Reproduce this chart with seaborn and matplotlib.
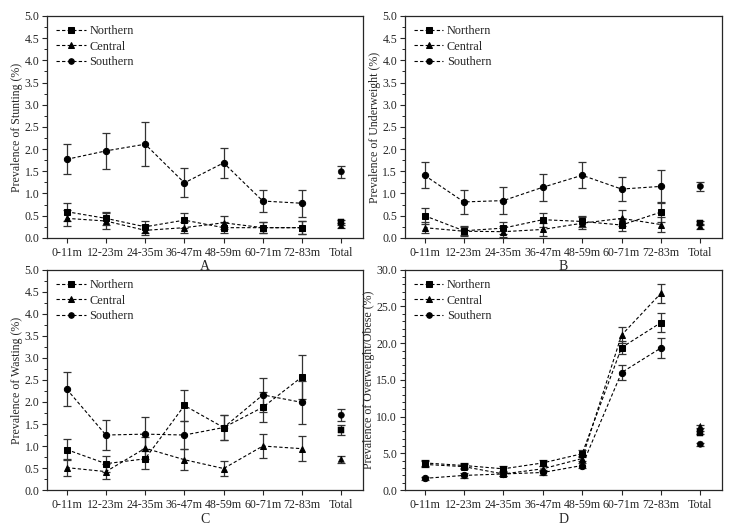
import numpy as np
import pandas as pd
import matplotlib
matplotlib.use("Agg")
import matplotlib.pyplot as plt
import seaborn as sns
from matplotlib.ticker import MultipleLocator, FormatStrFormatter

sns.set_style("ticks")
plt.rcParams['font.family'] = ['Liberation Serif', 'DejaVu Serif']

ages = ["0-11m", "12-23m", "24-35m", "36-47m", "48-59m", "60-71m", "72-83m", "Total"]
regions = ["Northern", "Central", "Southern"]

# A: stunting
stunt_north = [0.59, 0.44, 0.25, 0.40, 0.23, 0.23, 0.23, 0.35]
stunt_north_err = [0.20, 0.15, 0.13, 0.17, 0.12, 0.13, 0.15, 0.05]
stunt_central = [0.44, 0.38, 0.17, 0.23, 0.34, 0.23, 0.23, 0.28]
stunt_central_err = [0.18, 0.18, 0.11, 0.13, 0.15, 0.13, 0.15, 0.05]
stunt_south = [1.77, 1.96, 2.11, 1.24, 1.69, 0.83, 0.78, 1.49]
stunt_south_err = [0.34, 0.41, 0.49, 0.33, 0.33, 0.24, 0.30, 0.13]

# B: underweight
under_north = [0.50, 0.16, 0.22, 0.41, 0.37, 0.29, 0.58, 0.34]
under_north_err = [0.18, 0.10, 0.13, 0.16, 0.13, 0.14, 0.22, 0.05]
under_central = [0.23, 0.15, 0.14, 0.19, 0.33, 0.44, 0.30, 0.26]
under_central_err = [0.12, 0.10, 0.12, 0.14, 0.13, 0.18, 0.17, 0.05]
under_south = [1.41, 0.81, 0.84, 1.14, 1.41, 1.10, 1.16, 1.16]
under_south_err = [0.29, 0.27, 0.31, 0.31, 0.29, 0.27, 0.37, 0.11]

# C: wasting
waste_north = [0.92, 0.60, 0.71, 1.92, 1.42, 1.88, 2.57, 1.37]
waste_north_err = [0.24, 0.18, 0.23, 0.35, 0.28, 0.34, 0.50, 0.11]
waste_central = [0.51, 0.42, 0.95, 0.69, 0.49, 1.00, 0.94, 0.70]
waste_central_err = [0.19, 0.17, 0.25, 0.24, 0.17, 0.27, 0.29, 0.08]
waste_south = [2.29, 1.25, 1.27, 1.25, 1.42, 2.16, 1.99, 1.70]
waste_south_err = [0.38, 0.33, 0.39, 0.32, 0.28, 0.38, 0.49, 0.13]

# D: overweight/obese
over_north = [3.7, 3.35, 2.9, 3.7, 4.95, 19.4, 22.8, 7.84]
over_north_err = [0.40, 0.35, 0.35, 0.40, 0.45, 0.90, 1.30, 0.20]
over_central = [3.5, 3.2, 2.2, 2.9, 4.3, 21.1, 26.8, 8.66]
over_central_err = [0.40, 0.30, 0.30, 0.35, 0.40, 1.10, 1.30, 0.20]
over_south = [1.6, 2.0, 2.2, 2.4, 3.35, 16.0, 19.35, 6.25]
over_south_err = [0.25, 0.30, 0.30, 0.35, 0.40, 1.00, 1.40, 0.20]

panels = [
    ("A", "Prevalence of Stunting (%)", 5.0, 0.5, 0.25,
     [stunt_north, stunt_central, stunt_south], [stunt_north_err, stunt_central_err, stunt_south_err]),
    ("B", "Prevalence of Underweight (%)", 5.0, 0.5, 0.25,
     [under_north, under_central, under_south], [under_north_err, under_central_err, under_south_err]),
    ("C", "Prevalence of Wasting (%)", 5.0, 0.5, 0.25,
     [waste_north, waste_central, waste_south], [waste_north_err, waste_central_err, waste_south_err]),
    ("D", "Prevalence of Overweight/Obese (%)", 30.0, 5.0, 1.0,
     [over_north, over_central, over_south], [over_north_err, over_central_err, over_south_err]),
]

boxes = [[0.064, 0.552, 0.429, 0.418], [0.550, 0.552, 0.431, 0.418],
         [0.064, 0.077, 0.429, 0.415], [0.550, 0.077, 0.431, 0.415]]

markers = {"Northern": "s", "Central": "^", "Southern": "o"}
dashes = {"Northern": (3, 2), "Central": (3, 2), "Southern": (3, 2)}

fig = plt.figure(figsize=(7.36, 5.31), dpi=100)
for (label, ylab, ymax, major, minor, vals, errs), box in zip(panels, boxes):
    ax = fig.add_axes(box)
    rows = []
    for r, v, e in zip(regions, vals, errs):
        for i, a in enumerate(ages):
            rows.append({"pos": i, "age": a, "region": r, "value": v[i], "err": e[i]})
    df = pd.DataFrame(rows)
    for r in regions:
        d = df[df.region == r]
        ax.errorbar(d["pos"], d["value"], yerr=d["err"], fmt="none", ecolor="#333333",
                    elinewidth=0.9, capsize=3, capthick=0.9, zorder=2)
    line_df = df[df.age != "Total"]
    sns.lineplot(data=line_df, x="pos", y="value", hue="region", style="region",
                 palette=["black"] * 3, markers=markers, dashes=dashes, markersize=4.5,
                 linewidth=0.8, markeredgecolor="black", ax=ax, zorder=3)
    tot_df = df[df.age == "Total"]
    sns.scatterplot(data=tot_df, x="pos", y="value", style="region", markers=markers,
                    color="black", s=20, edgecolor="black", legend=False, ax=ax, zorder=3)
    ax.set_xlim(-0.5, 7.55)
    ax.set_ylim(0, ymax)
    ax.set_xticks(range(len(ages)))
    ax.set_xticklabels(ages, fontsize=8.6)
    ax.yaxis.set_major_locator(MultipleLocator(major))
    ax.yaxis.set_minor_locator(MultipleLocator(minor))
    ax.yaxis.set_major_formatter(FormatStrFormatter("%.1f"))
    ax.tick_params(axis="y", labelsize=8.5, direction="out", length=3.5, width=0.8, pad=2)
    ax.tick_params(axis="y", which="minor", length=2, width=0.7)
    ax.tick_params(axis="x", direction="out", length=3.5, width=0.8, pad=3)
    ax.set_ylabel(ylab, fontsize=8.6, labelpad=1)
    ax.set_xlabel(label, fontsize=10, labelpad=1)
    for s in ax.spines.values():
        s.set_linewidth(0.9)
    h, l = ax.get_legend_handles_labels()
    for hd in h:
        hd.set_markersize(4)
    ax.legend(h, l, loc="upper left", frameon=False, fontsize=8.8, handlelength=2.4,
              handletextpad=0.3, labelspacing=0.3, borderaxespad=0.35)

fig.savefig("out.png", dpi=100)
